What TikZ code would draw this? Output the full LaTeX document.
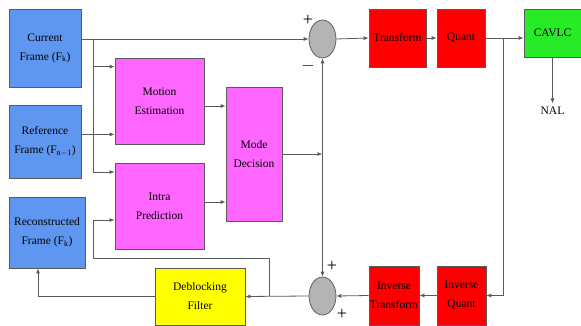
\documentclass[tikz,border=0pt]{standalone}
\usepackage{fontspec}
\setmainfont{Liberation Serif}
\usetikzlibrary{arrows.meta,shapes.geometric,calc}
\definecolor{frameblue}{RGB}{95,150,240}
\definecolor{predpink}{RGB}{255,102,255}
\definecolor{blockred}{RGB}{255,0,0}
\definecolor{codegreen}{RGB}{40,235,40}
\definecolor{filteryellow}{RGB}{255,255,0}
\definecolor{sumgray}{RGB}{180,180,180}
\definecolor{wire}{RGB}{90,90,90}
\tikzset{every picture/.style={line width=0.75pt}}

\begin{document}
\begin{tikzpicture}[x=1pt,y=-1pt,
    block/.style={draw=wire, rectangle, align=center, inner sep=1pt,
      font=\fontsize{11.5}{19}\selectfont},
    summer/.style={draw=wire, ellipse, fill=sumgray, minimum width=27pt, minimum height=38pt, inner sep=0pt},
    wireline/.style={draw=wire, line width=0.8pt},
    arr/.style={wireline, -{Latex[length=5pt,width=4pt]}},
    sign/.style={font=\fontsize{18}{18}\selectfont, inner sep=0pt}]
    \useasboundingbox (0,0) rectangle (581,326);
    % frames
    \node[block, fill=frameblue, minimum width=72pt, minimum height=78pt] (cur) at (45,48) {Current\\Frame (F$_{\mathrm{k}}$)};
    \node[block, fill=frameblue, minimum width=72pt, minimum height=73pt] (ref) at (45,141.5) {Reference\\Frame (F$_{\mathrm{n-1}}$)};
    \node[block, fill=frameblue, minimum width=76pt, minimum height=71pt] (rec) at (47,232.5) {Reconstructed\\Frame (F$_{\mathrm{k}}$)};
    % prediction
    \node[block, fill=predpink, minimum width=89pt, minimum height=86pt] (me) at (159.5,101) {Motion\\Estimation};
    \node[block, fill=predpink, minimum width=89pt, minimum height=86pt] (ip) at (159.5,206) {Intra\\Prediction};
    \node[block, fill=predpink, minimum width=56pt, minimum height=134pt] (md) at (254,154) {Mode\\Decision};
    % coding path
    \node[summer] (add1) at (322.5,39) {};
    \node[block, fill=blockred, minimum width=57pt, minimum height=58pt] (tr) at (397.5,38) {Transform};
    \node[block, fill=blockred, minimum width=48pt, minimum height=58pt] (qu) at (461,38) {Quant};
    \node[block, fill=codegreen, minimum width=57pt, minimum height=48pt] (cav) at (552.5,33) {CAVLC};
    \node[font=\fontsize{11.5}{12}\selectfont] (nal) at (552.5,111) {NAL};
    % reconstruction path
    \node[block, fill=blockred, minimum width=49pt, minimum height=59pt] (iq) at (461.5,295.5) {Inverse\\Quant};
    \node[block, fill=blockred, minimum width=50pt, minimum height=59pt] (it) at (394,295.5) {Inverse\\Transform};
    \node[summer] (add2) at (322.5,296) {};
    \node[block, fill=filteryellow, minimum width=90pt, minimum height=57pt] (db) at (200,296.5) {Deblocking\\Filter};
    % signs
    \node[sign] (p1) at (308,20) {+};
    \node[sign] (m1) at (308,66) {$-$};
    \node[sign] (p2) at (332,266) {+};
    \node[sign] (p3) at (342,314) {+};
    % helper points
    \coordinate (trunk top) at (93,39);
    \coordinate (trunk bot) at (93,172);
    \coordinate (me in1) at ($(me.north west)+(0,9)$);
    \coordinate (me in2) at ($(me.south west)+(0,-10)$);
    \coordinate (ip in2) at ($(ip.west)+(0,14)$);
    \coordinate (fb bend) at (93,258);
    \coordinate (fb tap) at (269,296);
    \coordinate (md tap) at (md.east -| add1.south);
    \coordinate (qu tap) at (503,38);
    % wires
    \draw[arr] (cur.east |- add1.west) -- (add1.west);
    \draw[wireline] (trunk top) -- (trunk bot);
    \draw[arr] (trunk top |- me in1) -- (me in1);
    \draw[arr] (ref.east |- me in2) -- (me in2);
    \draw[arr] (trunk bot) -- (trunk bot -| ip.west);
    \draw[arr] ([yshift=-5pt]me.east) -- ([yshift=-5pt]me.east -| md.west);
    \draw[arr] ([yshift=4pt]ip.east) -- ([yshift=4pt]ip.east -| md.west);
    \draw[arr] (md.east) -- (md tap);
    \draw[arr] (md tap) -- (add1.south);
    \draw[arr] (md tap) -- (add2.north);
    \draw[arr] (add1.east) -- (tr.west);
    \draw[arr] (tr.east) -- (qu.west);
    \draw[arr] (qu.east) -- (qu.east -| cav.west);
    \draw[arr] (qu tap) |- (iq.east);
    \draw[arr] (cav.south -| nal) -- (nal.north);
    \draw[arr] (iq.west) -- (it.east);
    \draw[arr] (it.west) -- (add2.east);
    \draw[arr] (add2.west) -- (db.east);
    \draw[arr] (fb tap) |- (fb bend) |- (ip in2);
    \draw[arr] (db.west) -| ([xshift=-9pt]rec.south);
\end{tikzpicture}
\end{document}
